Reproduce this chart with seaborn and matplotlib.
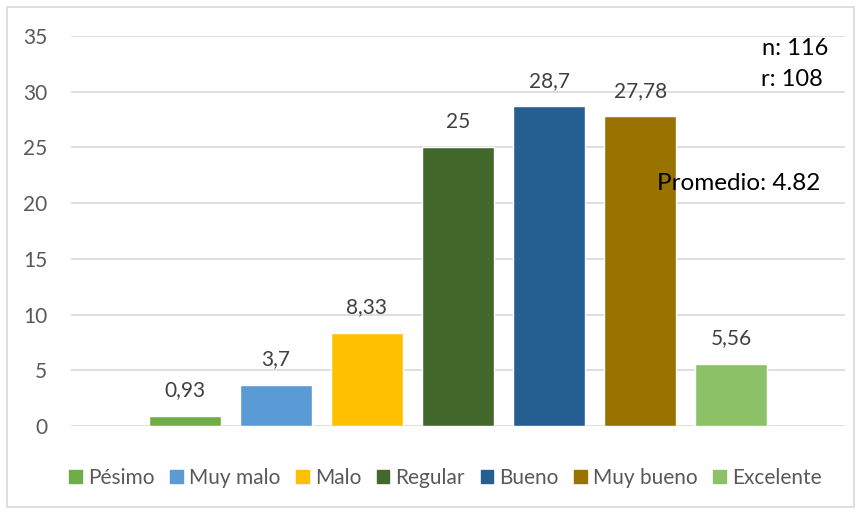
import matplotlib
matplotlib.use('Agg')
import matplotlib.pyplot as plt
import pandas as pd
import seaborn as sns
from matplotlib.patches import Rectangle

# Datos
categorias = ['Pésimo', 'Muy malo', 'Malo', 'Regular', 'Bueno', 'Muy bueno', 'Excelente']
porcentajes = [0.93, 3.7, 8.33, 25, 28.7, 27.78, 5.56]
etiquetas = ['0,93', '3,7', '8,33', '25', '28,7', '27,78', '5,56']
colores = ['#70AD47', '#5B9BD5', '#FFC000', '#43682B', '#255E91', '#997300', '#8CC168']
notas = ['n: 116', 'r: 108', 'Promedio: 4.82']

df = pd.DataFrame({'categoria': categorias, 'valor': porcentajes})

sns.set_style('white')
plt.rcParams['font.family'] = ['Lato', 'DejaVu Sans']

fig = plt.figure(figsize=(8.61, 5.13), dpi=100)
ax = fig.add_axes([0.0825, 0.1696, 0.899, 0.7602])

sns.barplot(data=df, x='categoria', y='valor', hue='categoria',
            palette=colores, order=categorias, hue_order=categorias,
            dodge=False, width=0.79, legend=False, ax=ax, saturation=1)

ax.set_xlim(-1.25, 7.25)
ax.set_ylim(0, 35)
ax.set_yticks(range(0, 36, 5))
ax.yaxis.grid(True, color='#D9D9D9', linewidth=1.2)
ax.set_axisbelow(True)
for s in ax.spines.values():
    s.set_visible(False)
ax.set_xticks([])
ax.set_xlabel('')
ax.set_ylabel('')
ax.tick_params(axis='y', length=0, labelsize=15, labelcolor='#595959', pad=17)

# Etiquetas de valor sobre cada barra
for i, (v, t) in enumerate(zip(porcentajes, etiquetas)):
    ax.text(i, v + 1.4, t, ha='center', va='bottom', fontsize=15, color='#404040')

# Notas de texto
ax.text(0.978, 0.969, notas[0], transform=ax.transAxes, ha='right', va='center', fontsize=17, color='black')
ax.text(0.9716, 0.8897, notas[1], transform=ax.transAxes, ha='right', va='center', fontsize=17, color='black')
ax.text(0.9677, 0.623, notas[2], transform=ax.transAxes, ha='right', va='center', fontsize=17.5, color='black')

# Leyenda inferior
handles = [Rectangle((0, 0), 1, 1, color=c) for c in colores]
fig.legend(handles, categorias, loc='center', bbox_to_anchor=(0.5175, 0.068), ncol=7,
           frameon=False, fontsize=15, labelcolor='#595959', handlelength=0.6,
           handleheight=0.6, handletextpad=0.3, columnspacing=0.75)

# Borde del gráfico
fig.patches.append(Rectangle((0.008, 0.012), 0.984, 0.975, transform=fig.transFigure,
                             fill=False, edgecolor='#D9D9D9', linewidth=1.2))

fig.savefig('out.png', dpi=100)
